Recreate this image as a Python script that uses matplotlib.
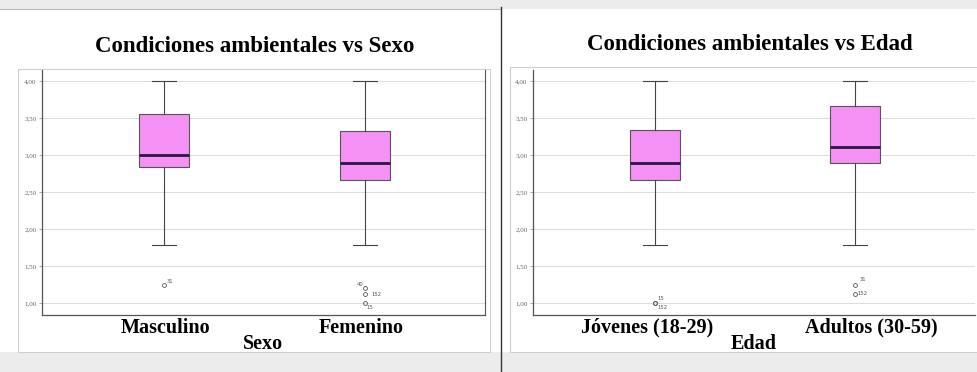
import matplotlib
matplotlib.use('Agg')
import matplotlib.pyplot as plt
import matplotlib.transforms as mtransforms
from matplotlib.patches import Rectangle
from matplotlib.lines import Line2D

# box statistics (whisker low, Q1, median, Q3, whisker high)
sexo_labels = ['Masculino', 'Femenino']
sexo_stats = [
    (1.78, 2.84, 3.00, 3.55, 4.00),
    (1.78, 2.67, 2.90, 3.33, 4.00),
]
sexo_outliers = [[1.24], [1.20, 1.12, 1.00]]
sexo_outlier_ids = [['31'], ['40', '152', '15']]

edad_labels = ['Jóvenes (18-29)', 'Adultos (30-59)']
edad_stats = [
    (1.78, 2.66, 2.89, 3.34, 4.00),
    (1.78, 2.89, 3.11, 3.67, 4.00),
]
edad_outliers = [[1.00, 1.00], [1.25, 1.13]]
edad_outlier_ids = [['15', '152'], ['31', '152']]

yticks = [1.0, 1.5, 2.0, 2.5, 3.0, 3.5, 4.0]

W, H = 977, 372
BOX_COLOR = '#f590f5'
SERIF = ['Liberation Serif', 'DejaVu Serif']


def to_fig(x0, y0, x1, y1):
    # pixel box (top-left origin) -> figure fraction rect
    return [x0 / W, 1 - y1 / H, (x1 - x0) / W, (y1 - y0) / H]


def draw_box_panel(ax, stats, outliers, ids, labels, xlabel, offsets, label_shift):
    bxp = []
    for (lo, q1, med, q3, hi), fl in zip(stats, outliers):
        bxp.append({'whislo': lo, 'q1': q1, 'med': med, 'q3': q3, 'whishi': hi, 'fliers': fl})
    ax.bxp(bxp, positions=[1, 2], widths=0.25, patch_artist=True, showfliers=True,
           boxprops=dict(facecolor=BOX_COLOR, edgecolor='#555555', linewidth=0.8),
           medianprops=dict(color='#2b1540', linewidth=2),
           whiskerprops=dict(color='#444444', linewidth=0.8),
           capprops=dict(color='#444444', linewidth=0.8),
           capwidths=0.12,
           flierprops=dict(marker='o', markersize=2.8, markerfacecolor='none',
                           markeredgecolor='#555555', markeredgewidth=0.6))
    for pos, vals, names, offs in zip([1, 2], outliers, ids, offsets):
        for v, n, (dx, dy) in zip(vals, names, offs):
            ax.annotate(n, (pos, v), xytext=(dx, dy), textcoords='offset points',
                        fontsize=3.8, color='#555555', ha='left', va='center')
    ax.set_xlim(0.39, 2.6)
    ax.set_ylim(0.84, 4.15)
    ax.set_yticks(yticks)
    ax.set_yticklabels([f'{t:.2f}'.replace('.', ',') for t in yticks],
                       fontsize=5, color='#666666', family=SERIF)
    ax.tick_params(axis='y', length=2, width=0.5, color='#888888', pad=2)
    ax.set_xticks([1, 2])
    ax.set_xticklabels(labels, fontsize=14.5, fontweight='bold', family=SERIF)
    ax.tick_params(axis='x', length=0, pad=2)
    for lab, dx in zip(ax.get_xticklabels(), label_shift):
        lab.set_transform(lab.get_transform() +
                          mtransforms.ScaledTranslation(dx / 100, 0, ax.figure.dpi_scale_trans))
    ax.set_xlabel(xlabel, fontsize=14.5, fontweight='bold', family=SERIF, labelpad=-3)
    ax.yaxis.grid(True, color='#dddddd', linewidth=0.8)
    ax.set_axisbelow(True)
    for side in ['left', 'bottom']:
        ax.spines[side].set_color('#555555')
        ax.spines[side].set_linewidth(0.9)
    ax.spines['top'].set_visible(False)


fig = plt.figure(figsize=(W / 100, H / 100), dpi=100)
fig.patch.set_facecolor('#ececec')

# white report backgrounds and light panel frames
fig.patches.append(Rectangle((0, 1 - 352 / H), 501 / W, (352 - 9) / H, transform=fig.transFigure,
                             facecolor='white', edgecolor='none', zorder=-3))
fig.patches.append(Rectangle((501 / W, 1 - 352 / H), (W - 501) / W, (352 - 9) / H,
                             transform=fig.transFigure, facecolor='white', edgecolor='none', zorder=-3))
fig.patches.append(Rectangle((18 / W, 1 - 352 / H), (490 - 18) / W, (352 - 69) / H,
                             transform=fig.transFigure, facecolor='none', edgecolor='#cfcfcf',
                             linewidth=0.8, zorder=-2))
fig.patches.append(Rectangle((510 / W, 1 - 352 / H), (W + 5 - 510) / W, (352 - 67) / H,
                             transform=fig.transFigure, facecolor='none', edgecolor='#cfcfcf',
                             linewidth=0.8, zorder=-2))
fig.lines.append(Line2D([0, 501 / W], [1 - 9 / H, 1 - 9 / H], transform=fig.transFigure,
                        color='#bbbbbb', linewidth=0.8))
fig.lines.append(Line2D([501 / W, 501 / W], [0, 1 - 7 / H], transform=fig.transFigure,
                        color='#333333', linewidth=1.0))

ax1 = fig.add_axes(to_fig(42, 70, 485, 315))
draw_box_panel(ax1, sexo_stats, sexo_outliers, sexo_outlier_ids, sexo_labels, 'Sexo',
               [[(2, 3)], [(-6, 3), (5, 0), (1, -3)]], [1, -4])
ax1.spines['right'].set_color('#555555')

ax2 = fig.add_axes(to_fig(533, 70, 975, 315))
draw_box_panel(ax2, edad_stats, edad_outliers, edad_outlier_ids, edad_labels, 'Edad',
               [[(2, 3), (2, -3)], [(3, 4), (2, 0)]], [-8, 16])
ax2.spines['right'].set_visible(False)

fig.text(255 / W, 1 - 47 / H, 'Condiciones ambientales vs Sexo', ha='center', va='center',
         fontsize=16.5, fontweight='bold', family=SERIF)
fig.text(750 / W, 1 - 45 / H, 'Condiciones ambientales vs Edad', ha='center', va='center',
         fontsize=16.5, fontweight='bold', family=SERIF)

fig.savefig('out.png', dpi=100, facecolor=fig.get_facecolor())
